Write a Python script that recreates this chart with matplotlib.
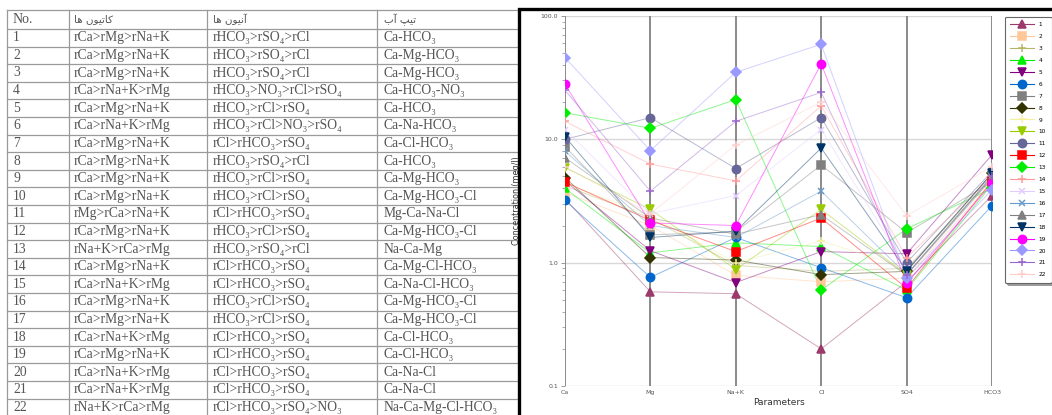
import numpy as np
import matplotlib
matplotlib.use("Agg")
import matplotlib.pyplot as plt
from matplotlib.lines import Line2D

# ===== data =====
params = ['Ca', 'Mg', 'Na+K', 'Cl', 'SO4', 'HCO3']
samples = [str(i) for i in range(1, 23)]

# concentrations (meq/l) per sample 1..22
ca   = [3.3, 3.7, 4.2, 4.0, 4.6, 3.2, 8.7, 4.9, 4.4, 5.9, 10.0, 4.5, 16.4, 14.0, 12.0, 8.0, 7.1, 10.5, 28.0, 46.0, 25.0, 6.0]
mg   = [0.58, 2.0, 2.3, 1.2, 1.25, 0.76, 1.68, 1.1, 2.4, 2.7, 15.0, 2.2, 12.3, 6.3, 2.5, 2.0, 2.3, 1.6, 2.1, 8.1, 3.8, 2.5]
nak  = [0.56, 0.79, 0.95, 1.45, 0.69, 1.6, 1.78, 1.05, 1.0, 0.88, 5.8, 1.23, 21.0, 4.6, 3.5, 1.6, 1.7, 1.8, 2.0, 35.0, 14.0, 9.0]
cl   = [0.2, 0.7, 0.85, 1.35, 1.23, 0.91, 6.2, 0.8, 1.5, 2.7, 15.0, 2.3, 0.6, 18.7, 12.0, 3.8, 2.45, 8.5, 41.0, 59.0, 24.0, 20.0]
so4  = [0.7, 0.75, 0.9, 0.6, 1.18, 0.52, 1.75, 0.85, 0.9, 0.8, 1.0, 0.62, 1.88, 1.1, 0.9, 0.8, 0.79, 0.86, 0.68, 0.75, 0.8, 2.4]
hco3 = [3.5, 4.5, 4.8, 4.3, 7.5, 2.9, 4.5, 5.3, 5.0, 5.0, 5.5, 4.6, 4.0, 5.0, 5.0, 5.0, 4.8, 5.3, 4.4, 3.9, 5.0, 6.0]

colors = ['#9b3a6b', '#ffc89a', '#b5b56a', '#00ee00', '#800080', '#0066cc', '#808080', '#333300',
          '#f5f0a0', '#99cc00', '#666699', '#ff0000', '#00ee00', '#ff9999', '#e0ccff', '#6699cc',
          '#808080', '#003366', '#ff00ff', '#9999ff', '#9966cc', '#ffcccc']
markers = ['^', 's', '+', '^', 'v', 'o', 's', 'D', '+', 'v', 'o', 's', 'D', '+', 'x', 'x',
           '^', 'v', 'o', 'D', '+', '+']

# table
cations = ['rCa>rMg>rNa+K', 'rCa>rMg>rNa+K', 'rCa>rMg>rNa+K', 'rCa>rNa+K>rMg', 'rCa>rMg>rNa+K',
           'rCa>rNa+K>rMg', 'rCa>rMg>rNa+K', 'rCa>rMg>rNa+K', 'rCa>rMg>rNa+K', 'rCa>rMg>rNa+K',
           'rMg>rCa>rNa+K', 'rCa>rMg>rNa+K', 'rNa+K>rCa>rMg', 'rCa>rMg>rNa+K', 'rCa>rNa+K>rMg',
           'rCa>rMg>rNa+K', 'rCa>rMg>rNa+K', 'rCa>rNa+K>rMg', 'rCa>rMg>rNa+K', 'rCa>rNa+K>rMg',
           'rCa>rNa+K>rMg', 'rNa+K>rCa>rMg']
anions = ['rHCO₃>rSO₄>rCl', 'rHCO₃>rSO₄>rCl', 'rHCO₃>rSO₄>rCl', 'rHCO₃>NO₃>rCl>rSO₄', 'rHCO₃>rCl>rSO₄',
          'rHCO₃>rCl>NO₃>rSO₄', 'rCl>rHCO₃>rSO₄', 'rHCO₃>rSO₄>rCl', 'rHCO₃>rCl>rSO₄', 'rHCO₃>rCl>rSO₄',
          'rCl>rHCO₃>rSO₄', 'rHCO₃>rCl>rSO₄', 'rHCO₃>rSO₄>rCl', 'rCl>rHCO₃>rSO₄', 'rCl>rHCO₃>rSO₄',
          'rHCO₃>rCl>rSO₄', 'rHCO₃>rCl>rSO₄', 'rCl>rHCO₃>rSO₄', 'rCl>rHCO₃>rSO₄', 'rCl>rHCO₃>rSO₄',
          'rCl>rHCO₃>rSO₄', 'rCl>rHCO₃>rSO₄>NO₃']
water_type = ['Ca-HCO₃', 'Ca-Mg-HCO₃', 'Ca-Mg-HCO₃', 'Ca-HCO₃-NO₃', 'Ca-HCO₃', 'Ca-Na-HCO₃',
              'Ca-Cl-HCO₃', 'Ca-HCO₃', 'Ca-Mg-HCO₃', 'Ca-Mg-HCO₃-Cl', 'Mg-Ca-Na-Cl', 'Ca-Mg-HCO₃-Cl',
              'Na-Ca-Mg', 'Ca-Mg-Cl-HCO₃', 'Ca-Na-Cl-HCO₃', 'Ca-Mg-HCO₃-Cl', 'Ca-Mg-HCO₃-Cl',
              'Ca-Cl-HCO₃', 'Ca-Cl-HCO₃', 'Ca-Na-Cl', 'Ca-Na-Cl', 'Na-Ca-Mg-Cl-HCO₃']

# Persian headers, pre-shaped (presentation forms, visual order) since matplotlib has no bidi
headers = ['No.',
           '\ufe8e\ufeeb \ufee5\ufeee\ufbff\ufe97\ufe8e\ufb90',   # کاتیون ها
           '\ufe8e\ufeeb \ufee5\ufeee\ufbff\ufee7\ufe81',         # آنیون ها
           '\ufe8f\ufe81 \ufb57\ufbff\ufe97']                     # تیپ آب

fig = plt.figure(figsize=(10.52, 4.15), dpi=100)

# ===== table (pixel coords overlay) =====
bg = fig.add_axes([0, 0, 1, 1])
bg.set_xlim(0, 1052)
bg.set_ylim(415, 0)
bg.axis('off')

serif = ['Liberation Serif', 'DejaVu Serif']
col_x = [7, 69, 207, 377, 519]
text_x = [13, 74, 213, 384]
row_y = [10, 29] + [29 + 17.6 * (i + 1) for i in range(22)]
for y in row_y:
    bg.plot([col_x[0], col_x[-1]], [y, y], color='#9a9a9a', lw=0.9)
for x in col_x[:-1]:
    bg.plot([x, x], [row_y[0], 415], color='#9a9a9a', lw=0.9)

bg.text(text_x[0], 19.5, headers[0], fontsize=10, family=serif, color='#555', va='center')
for j in range(1, 4):
    bg.text(text_x[j], 19.5, headers[j], fontsize=7.5, family=['DejaVu Sans'], color='#555', va='center')
for i in range(22):
    yc = (row_y[i + 1] + row_y[i + 2]) / 2
    row = [samples[i], cations[i], anions[i], water_type[i]]
    for j in range(4):
        bg.text(text_x[j], yc, row[j], fontsize=9.8, family=serif, color='#555', va='center')

# black frame round the diagram
bg.plot([519, 519, 1052], [415, 9, 9], color='black', lw=2.4, solid_joinstyle='miter')

# ===== Schoeller diagram =====
ax = fig.add_axes([565 / 1052, 1 - 386 / 415, (992 - 565) / 1052, (386 - 16) / 415])
data = np.array([ca, mg, nak, cl, so4, hco3]).T
xs = np.arange(len(params))
msize = {'D': 4.8, '+': 6, 'x': 5, 'o': 6, 's': 6, '^': 6, 'v': 6}

for i in range(len(samples)):
    ax.plot(xs, data[i], color=colors[i], lw=0.7, alpha=0.45, zorder=3)
handles = []
for i in range(len(samples)):
    ms = msize[markers[i]]
    ax.plot(xs, data[i], ls='none', marker=markers[i], color=colors[i], ms=ms,
            mew=1.1, zorder=4 + i)
    handles.append(Line2D([], [], color=colors[i], lw=0.8, marker=markers[i], ms=ms, mew=1.1))

ax.set_yscale('log')
ax.set_ylim(0.1, 100)
ax.set_xlim(0, 5)
for x in xs:
    ax.axvline(x, color='#8a8a8a', lw=1.4, zorder=2)
for y in [0.1, 1, 10, 100]:
    ax.axhline(y, color='#d8d8d8', lw=1.0, zorder=1)
for s in ax.spines.values():
    s.set_visible(False)

ax.set_xticks(xs)
ax.set_xticklabels(params, fontsize=4.5, color='#555')
ax.set_yticks([0.1, 1, 10, 100])
ax.set_yticklabels(['0.1', '1.0', '10.0', '100.0'], fontsize=4.5, color='#555')
ax.tick_params(axis='x', length=0, pad=3)
ax.tick_params(axis='y', which='major', length=3, width=0.6, color='#888', pad=2)
ax.tick_params(axis='y', which='minor', length=2, width=0.5, color='#888', labelleft=False)
ax.set_xlabel('Parameters', fontsize=6.5, color='#333', labelpad=2)
ax.set_ylabel('Concentration (meq/l)', fontsize=5.8, color='#333', labelpad=14)

leg = fig.legend(handles, samples, loc='upper left', bbox_to_anchor=(1002 / 1052, 1 - 14 / 415),
                 fontsize=4.2, labelspacing=1.17, handlelength=4.0, handletextpad=0.9,
                 borderpad=0.9, fancybox=True, shadow=True, framealpha=1, edgecolor='#666')
leg.get_frame().set_linewidth(0.8)

fig.savefig('out.png', dpi=100)
